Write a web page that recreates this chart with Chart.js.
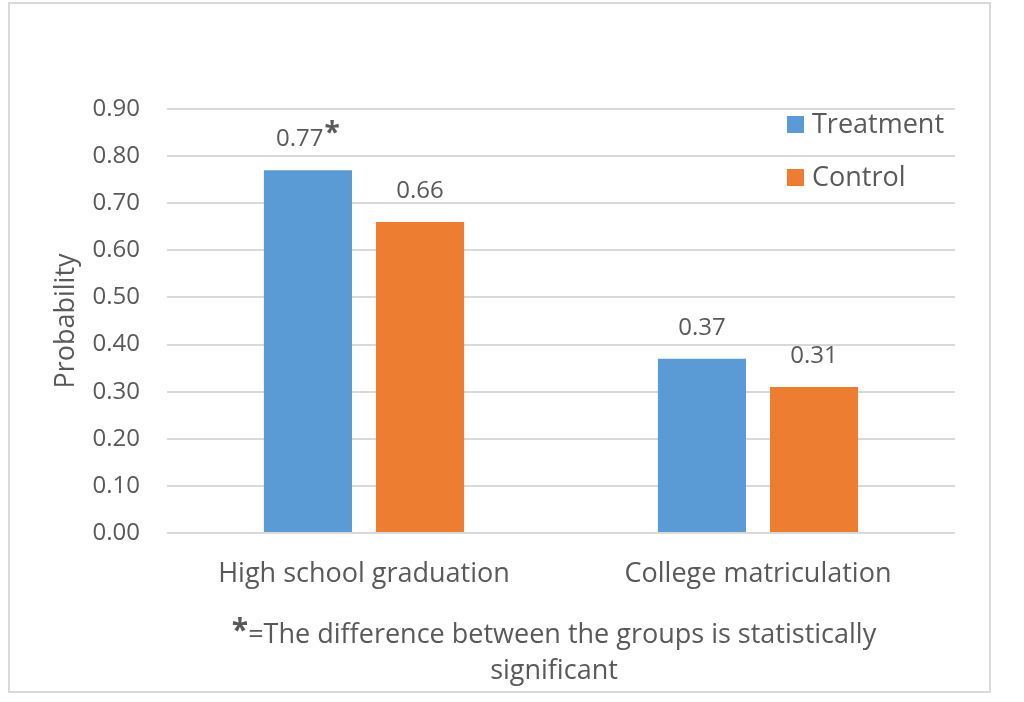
<!DOCTYPE html>
<html>
<head>
<meta charset="utf-8">
<style>
  html, body { margin: 0; padding: 0; background: #fff; }
  #wrap { width: 1024px; height: 702px; position: relative; }
</style>
<script src="https://cdn.jsdelivr.net/npm/chart.js@4.4.0/dist/chart.umd.min.js"></script>
</head>
<body>
<div id="wrap"><canvas id="chartProb" width="1024" height="702"></canvas></div>
<script>
const categories = ['High school graduation', 'College matriculation']
const seriesNames = ['Treatment', 'Control']
const treatmentValues = [0.77, 0.37]
const controlValues = [0.66, 0.31]
const significant = [true, false]
const footnoteLines = ['=The difference between the groups is statistically', 'significant']

const seriesColors = ['#5b9bd5', '#ed7d31']
const textColor = '#595959'
const fontFamily = '"Open Sans", "Noto Sans", sans-serif'

// white background + outer frame
const framePlugin = {
  id: 'frame',
  beforeDraw(chart) {
    const ctx = chart.ctx
    ctx.save()
    ctx.fillStyle = '#fff'
    ctx.fillRect(0, 0, chart.width, chart.height)
    ctx.strokeStyle = '#d9d9d9'
    ctx.lineWidth = 2
    ctx.strokeRect(9, 3, 981, 689)
    ctx.restore()
  }
}

// value labels above bars, with * for significant differences
const valueLabels = {
  id: 'valueLabels',
  afterDatasetsDraw(chart) {
    const ctx = chart.ctx
    ctx.save()
    ctx.fillStyle = textColor
    ctx.textBaseline = 'middle'
    ctx.textAlign = 'left'
    chart.data.datasets.forEach((ds, di) => {
      const meta = chart.getDatasetMeta(di)
      meta.data.forEach((bar, i) => {
        const txt = ds.data[i].toFixed(2)
        const star = di === 0 && significant[i]
        ctx.font = '24px ' + fontFamily
        const w = ctx.measureText(txt).width
        ctx.font = 'bold 28px ' + fontFamily
        const ws = star ? ctx.measureText('*').width + 1 : 0
        const x = bar.x - (w + ws) / 2
        ctx.font = '24px ' + fontFamily
        ctx.fillText(txt, x, bar.y - 31)
        if (star) {
          ctx.font = 'bold 28px ' + fontFamily
          ctx.fillText('*', x + w + 1, bar.y - 36)
        }
      })
    })
    ctx.restore()
  }
}

// legend drawn inside the plot, top right
const innerLegend = {
  id: 'innerLegend',
  afterDraw(chart) {
    const ctx = chart.ctx
    ctx.save()
    ctx.font = '27px ' + fontFamily
    ctx.textBaseline = 'middle'
    ctx.textAlign = 'left'
    chart.data.datasets.forEach((ds, di) => {
      const y = 124 + di * 53
      ctx.fillStyle = ds.backgroundColor
      ctx.fillRect(787, y - 8, 17, 17)
      ctx.fillStyle = textColor
      ctx.fillText(ds.label, 812, y + 1)
    })
    ctx.restore()
  }
}

const footnote = {
  id: 'footnote',
  afterDraw(chart) {
    const ctx = chart.ctx
    ctx.save()
    ctx.fillStyle = textColor
    ctx.textBaseline = 'middle'
    ctx.font = '27px ' + fontFamily
    const w1 = ctx.measureText(footnoteLines[0]).width
    ctx.font = 'bold 30px ' + fontFamily
    const ws = ctx.measureText('*').width
    const cx = 554
    let x = cx - (w1 + ws) / 2
    ctx.textAlign = 'left'
    ctx.fillText('*', x, 631)
    ctx.font = '27px ' + fontFamily
    ctx.fillText(footnoteLines[0], x + ws, 635)
    ctx.textAlign = 'center'
    ctx.fillText(footnoteLines[1], cx, 671)
    ctx.restore()
  }
}

new Chart(document.getElementById('chartProb'), {
  type: 'bar',
  data: {
    labels: categories,
    datasets: [
      { label: seriesNames[0], data: treatmentValues, backgroundColor: seriesColors[0] },
      { label: seriesNames[1], data: controlValues, backgroundColor: seriesColors[1] }
    ]
  },
  options: {
    responsive: false,
    animation: false,
    devicePixelRatio: 1,
    categoryPercentage: 0.569,
    barPercentage: 0.786,
    layout: { padding: { left: 0, top: 109, right: 69, bottom: 0 } },
    plugins: {
      legend: { display: false },
      tooltip: { enabled: false }
    },
    scales: {
      x: {
        grid: { display: false, drawTicks: false },
        border: { display: false },
        ticks: { color: textColor, font: { family: fontFamily, size: 27 }, padding: 25, maxRotation: 0 },
        afterFit(scale) { scale.height = 169 }
      },
      y: {
        min: 0,
        max: 0.9,
        ticks: {
          stepSize: 0.1,
          color: textColor,
          padding: 27,
          font: { family: fontFamily, size: 24 },
          callback: v => v.toFixed(2)
        },
        grid: { color: '#d9d9d9', lineWidth: 2, drawTicks: false },
        border: { display: false },
        title: {
          display: true,
          text: 'Probability',
          color: textColor,
          font: { family: fontFamily, size: 27 },
          padding: { top: 50, bottom: 0 }
        },
        afterFit(scale) { scale.width = 167 }
      }
    }
  },
  plugins: [framePlugin, valueLabels, innerLegend, footnote]
})
</script>
</body>
</html>
